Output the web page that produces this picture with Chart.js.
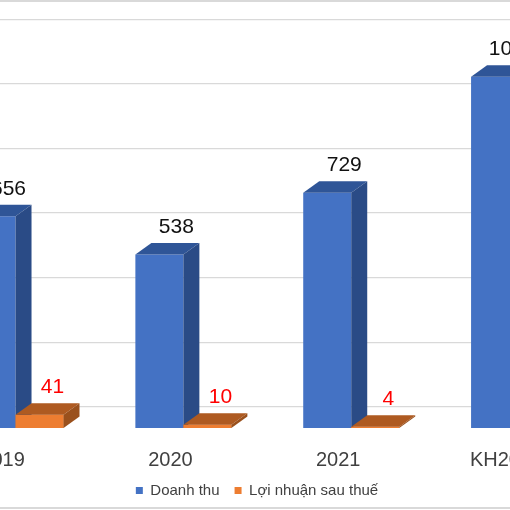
<!DOCTYPE html>
<html>
<head>
<meta charset="utf-8">
<script src="https://cdn.jsdelivr.net/npm/chart.js@4.4.0/dist/chart.umd.min.js"></script>
<style>
  html, body { margin: 0; padding: 0; background: #fff; width: 510px; height: 510px; overflow: hidden; }
  #frame { position: absolute; left: 0; top: 0; width: 510px; height: 510px; overflow: hidden; }
  #box { position: absolute; left: -89px; top: 0; width: 692px; height: 508px; }
  .edge { position: absolute; left: 0; width: 510px; height: 2px; background: #d9d9d9; }
</style>
</head>
<body>
<div id="frame">
  <div class="edge" style="top:0"></div>
  <div id="box"><canvas id="c"></canvas></div>
  <div class="edge" style="top:507px"></div>
</div>
<script>
// du lieu doc tu hinh
const years = ['2019', '2020', '2021', 'KH2022'];
const revenue = [656, 538, 729, 1088];
const profit = [41, 10, 4, null];
const seriesNames = ['Doanh thu', 'Lợi nhuận sau thuế'];

const frontColors = ['#4472C4', '#ED7D31'];
const faceColors = [
    { top: '#2F5597', side: '#2A4B86' },
    { top: '#AE5A21', side: '#9A501C' }
];
const labelColors = ['#111111', '#FF0000'];
const labelShift = [17, 13];

// chieu sau 3D
const DX = 16, DY = 11.5;

Chart.defaults.font.family = '"Liberation Sans", Arial, sans-serif';

const bar3d = {
    id: 'bar3d',
    afterDatasetsDraw(chart) {
        const ctx = chart.ctx;
        ctx.save();
        chart.data.datasets.forEach((ds, d) => {
            const meta = chart.getDatasetMeta(d);
            meta.data.forEach((bar, i) => {
                if (ds.data[i] == null) return;
                const p = bar.getProps(['x', 'y', 'base', 'width'], true);
                const l = p.x - p.width / 2, r = p.x + p.width / 2;
                if (d > 0) bar.draw(ctx); // cot sau phai che mat ben cua cot truoc
                ctx.fillStyle = faceColors[d].top;
                ctx.beginPath();
                ctx.moveTo(l, p.y);
                ctx.lineTo(l + DX, p.y - DY);
                ctx.lineTo(r + DX, p.y - DY);
                ctx.lineTo(r, p.y);
                ctx.closePath();
                ctx.fill();
                ctx.fillStyle = faceColors[d].side;
                ctx.beginPath();
                ctx.moveTo(r, p.y);
                ctx.lineTo(r + DX, p.y - DY);
                ctx.lineTo(r + DX, p.base - DY);
                ctx.lineTo(r, p.base);
                ctx.closePath();
                ctx.fill();
            });
        });
        // nhan gia tri
        ctx.font = '21px "Liberation Sans", Arial, sans-serif';
        ctx.textAlign = 'center';
        ctx.textBaseline = 'alphabetic';
        chart.data.datasets.forEach((ds, d) => {
            const meta = chart.getDatasetMeta(d);
            meta.data.forEach((bar, i) => {
                if (ds.data[i] == null) return;
                ctx.fillStyle = labelColors[d];
                ctx.fillText(String(ds.data[i]), bar.x + labelShift[d], bar.y - DY - 10);
            });
        });
        ctx.restore();
    }
};

const chart = new Chart(document.getElementById('c').getContext('2d'), {
    type: 'bar',
    data: {
        labels: years,
        datasets: [
            { label: seriesNames[0], data: revenue, backgroundColor: frontColors[0], yAxisID: 'y' },
            { label: seriesNames[1], data: profit, backgroundColor: frontColors[1], yAxisID: 'y' }
        ]
    },
    options: {
        responsive: true,
        maintainAspectRatio: false,
        animation: false,
        layout: { padding: 0 },
        datasets: {
            bar: { barPercentage: 1, categoryPercentage: 0.572, borderWidth: 0 }
        },
        plugins: {
            legend: {
                position: 'bottom',
                labels: {
                    boxWidth: 7,
                    boxHeight: 7,
                    padding: 15,
                    color: '#404040',
                    font: { size: 15 }
                }
            },
            tooltip: { enabled: false }
        },
        scales: {
            x: {
                grid: { display: false, drawTicks: false },
                border: { display: false },
                ticks: {
                    color: '#404040',
                    font: { size: 20 },
                    padding: 20,
                    labelOffset: -13,
                    maxRotation: 0,
                    autoSkip: false
                },
                afterFit: (s) => { s.height = 39.9; }
            },
            y: { display: false, min: 0, max: 1326 },
            yg: {
                position: 'left',
                min: -66,
                max: 1260,
                grid: { color: '#d9d9d9', lineWidth: 1.3, drawTicks: false },
                border: { display: false },
                ticks: { display: false, stepSize: 200, includeBounds: false },
                afterFit: (s) => { s.width = 20.6; }
            }
        }
    },
    plugins: [bar3d]
});
</script>
</body>
</html>
